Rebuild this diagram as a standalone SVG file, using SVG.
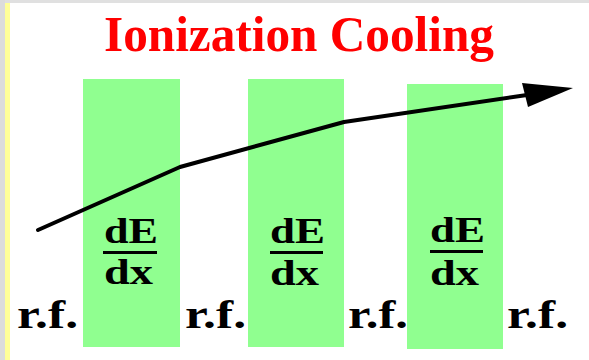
<svg xmlns="http://www.w3.org/2000/svg" width="589" height="360" viewBox="0 0 589 360">
<style>
.bar{fill:#90ff90}
.t{font-family:"Liberation Serif","Times New Roman",serif;font-weight:bold;fill:#000}
.frac{font-size:36px}
.rf{font-size:40px}
.title{font-size:50px;fill:#ff0000}
.ln{fill:#000}
</style>
<rect x="0" y="0" width="589" height="360" fill="#ffffff"/>
<rect x="0" y="0" width="589" height="3" fill="#e0e0e0"/>
<rect x="0" y="0" width="5" height="360" fill="#dcdcdc"/>
<rect x="5" y="3" width="5" height="357" fill="#ffff99"/>
<g id="title"><text class="t title" x="104" y="51" textLength="390" lengthAdjust="spacingAndGlyphs">Ionization Cooling</text></g>
<g id="absorber1">
<rect class="bar" x="83" y="79" width="97" height="268"/>
<text class="t frac" x="104" y="243" textLength="54" lengthAdjust="spacingAndGlyphs">dE</text>
<rect class="ln" x="103" y="251" width="54" height="3"/>
<text class="t frac" x="104" y="284" textLength="49" lengthAdjust="spacingAndGlyphs">dx</text>
</g>
<g id="absorber2">
<rect class="bar" x="248" y="79" width="96" height="268"/>
<text class="t frac" x="270" y="243" textLength="55" lengthAdjust="spacingAndGlyphs">dE</text>
<rect class="ln" x="270" y="251" width="53" height="3"/>
<text class="t frac" x="270" y="285" textLength="49" lengthAdjust="spacingAndGlyphs">dx</text>
</g>
<g id="absorber3">
<rect class="bar" x="407" y="84" width="96" height="265"/>
<text class="t frac" x="430" y="242" textLength="55" lengthAdjust="spacingAndGlyphs">dE</text>
<rect class="ln" x="430" y="250" width="53" height="3"/>
<text class="t frac" x="430" y="285" textLength="49" lengthAdjust="spacingAndGlyphs">dx</text>
</g>
<g id="rf1"><text class="t rf" x="17" y="328" textLength="61" lengthAdjust="spacingAndGlyphs">r.f.</text></g>
<g id="rf2"><text class="t rf" x="185" y="328" textLength="61" lengthAdjust="spacingAndGlyphs">r.f.</text></g>
<g id="rf3"><text class="t rf" x="348" y="328" textLength="60" lengthAdjust="spacingAndGlyphs">r.f.</text></g>
<g id="rf4"><text class="t rf" x="507" y="328" textLength="61" lengthAdjust="spacingAndGlyphs">r.f.</text></g>
<g id="connectors">
<polyline points="38,230 180,167 344,122 527,95" fill="none" stroke="#000" stroke-width="4" stroke-linejoin="round" stroke-linecap="round"/>
<polygon points="522,83 573,88 528,107" fill="#000"/>
</g>
</svg>
